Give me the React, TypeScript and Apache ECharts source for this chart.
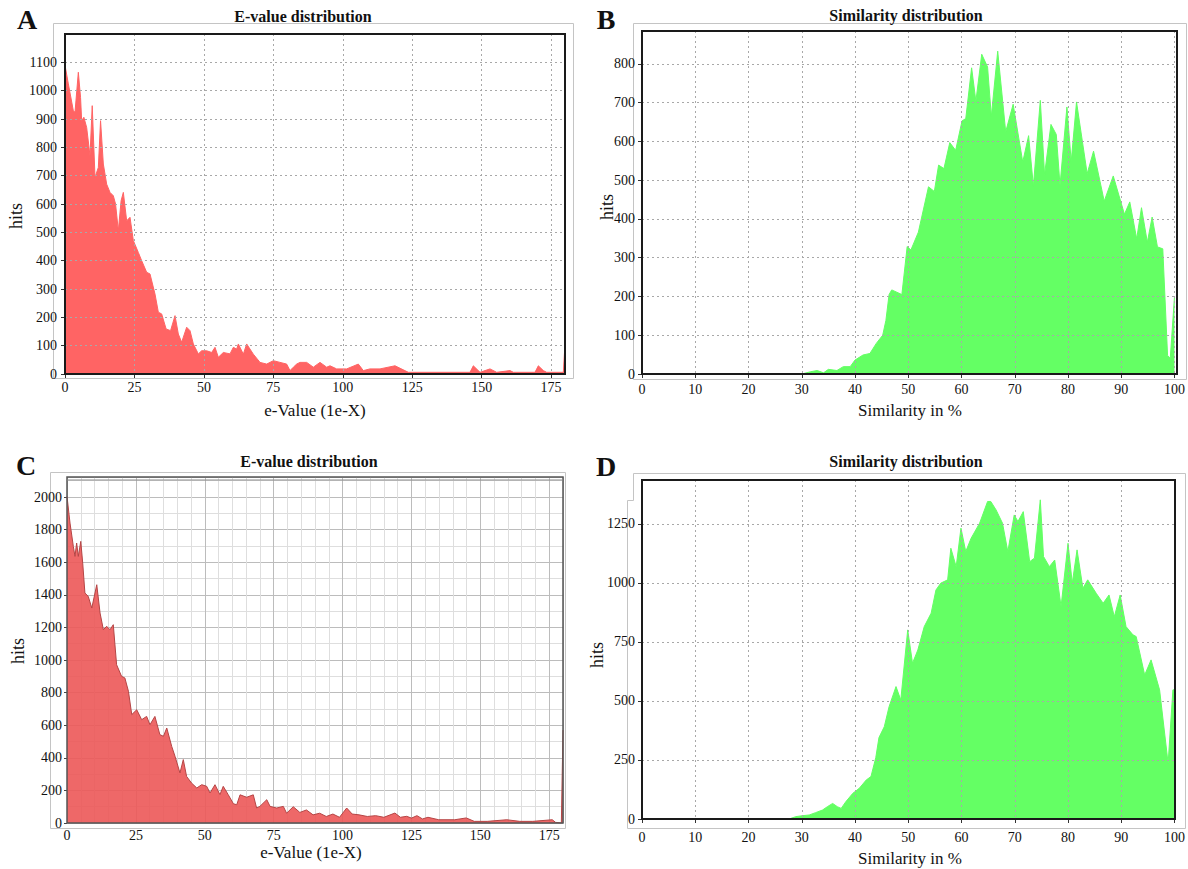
import React, { useEffect, useRef } from "react";
import * as echarts from "echarts";

// ---------- data ----------
// Panel A: E-value distribution (x = e-value exponent, y = hits)
const evalueA: [number, number][] = [
  [0, 1090], [1.2, 1024], [3.0, 929], [3.6, 924], [4.8, 1065], [5.6, 976], [6.0, 894], [6.8, 906],
  [7.8, 870], [9.0, 770], [9.8, 947], [10.8, 694], [12.0, 729], [12.8, 894], [13.8, 741], [15.0, 670],
  [16.2, 641], [17.4, 629], [18.2, 600], [19.2, 506], [20.2, 612], [21.0, 641], [22.2, 541], [23.4, 553],
  [24.6, 471], [26.4, 429], [27.6, 400], [29.4, 359], [30.6, 353], [32.4, 282], [33.6, 218], [34.8, 212],
  [36.4, 159], [38.0, 153], [39.6, 206], [40.8, 141], [42.0, 112], [43.8, 165], [45.0, 153], [46.2, 106],
  [48.0, 71], [49.2, 82], [51.0, 82], [52.8, 76], [54.0, 94], [55.2, 59], [57.0, 76], [59.4, 71],
  [60.6, 94], [61.8, 88], [62.4, 106], [64.2, 70], [65.4, 106], [67.8, 70], [70.2, 41], [72.6, 35],
  [75.0, 47], [77.4, 41], [79.8, 35], [81.0, 12], [82.2, 24], [83.4, 35], [84.6, 41], [87.0, 41],
  [89.4, 24], [91.8, 41], [94.2, 24], [95.4, 29], [97.8, 18], [101.4, 18], [105.6, 35], [107.4, 12],
  [109.8, 18], [113.4, 18], [118.8, 29], [123.6, 6], [135.0, 6], [145.8, 6], [147.0, 29], [149.4, 6],
  [153.0, 18], [155.4, 6], [160.2, 12], [161.4, 6], [169.2, 6], [170.4, 29], [172.2, 12], [173.4, 6],
  [179.4, 6], [180, 106],
];

// Panel B: Similarity distribution (x = similarity %, y = hits)
const similarityB: [number, number][] = [
  [0, 0], [30, 0], [31.7, 6], [32.9, 9], [34.1, 3], [35, 12], [36.6, 9], [37.8, 19], [39.1, 19],
  [40, 36], [41.5, 49], [42.8, 53], [44, 79], [45.2, 100], [45.8, 138], [46.4, 205], [46.9, 217],
  [48.8, 205], [49.8, 329], [50.5, 320], [51.9, 366], [53.8, 483], [54.9, 471], [55.7, 539],
  [56.7, 530], [57.8, 597], [58.9, 577], [60.1, 653], [60.8, 659], [61.9, 790], [62.7, 704],
  [63.8, 825], [64.9, 792], [65.6, 665], [66.8, 833], [68.3, 625], [69.7, 696], [71.5, 547],
  [72.6, 615], [73.5, 485], [74.8, 706], [75.6, 515], [76.8, 644], [77.8, 618], [78.5, 487],
  [79.8, 689], [80.6, 548], [81.6, 702], [83.6, 517], [84.8, 575], [86.8, 446], [88.5, 511],
  [90.6, 412], [91.6, 444], [92.9, 349], [93.8, 429], [94.9, 340], [95.8, 405], [96.8, 328],
  [97.8, 323], [98.7, 48], [99.2, 40], [100, 200],
];

// Panel C: E-value distribution
const evalueC: [number, number][] = [
  [0, 2004], [1.1, 1840], [2.3, 1697], [2.9, 1636], [3.5, 1718], [4.1, 1636], [5.0, 1728], [5.7, 1595],
  [6.5, 1411], [7.7, 1391], [9.0, 1319], [10.8, 1462], [12.0, 1288], [13.2, 1186], [14.4, 1207],
  [15.6, 1186], [16.8, 1217], [18.0, 971], [19.8, 900], [21.0, 890], [22.3, 808], [23.5, 665],
  [25.3, 695], [27.1, 634], [28.9, 654], [30.1, 603], [31.9, 654], [33.7, 542], [35.0, 532],
  [36.2, 583], [38.0, 470], [39.2, 409], [41.0, 307], [42.2, 389], [43.4, 286], [45.2, 245],
  [47.1, 215], [48.9, 235], [50.7, 225], [51.9, 184], [53.7, 235], [55.5, 174], [56.7, 225],
  [58.5, 174], [60.4, 118], [61.6, 112], [62.8, 173], [65.2, 158], [67.6, 173], [68.8, 92],
  [70.0, 102], [72.5, 143], [73.7, 102], [76.1, 92], [78.5, 102], [79.7, 60], [82.1, 100],
  [84.5, 65], [86.9, 80], [89.3, 50], [91.7, 60], [94.1, 40], [96.5, 55], [98.9, 35], [101.5, 92],
  [103.5, 55], [106, 50], [109, 40], [112, 45], [115, 35], [119, 61], [121, 35], [123.3, 41],
  [125, 30], [127, 45], [129, 25], [131, 35], [134.9, 20], [140.7, 20], [144.9, 31], [147.8, 10],
  [152.5, 10], [159.6, 20], [164.3, 10], [169, 10], [176.1, 20], [177.3, 4], [179.4, 0], [180, 570],
];

// Panel D: Similarity distribution
const similarityD: [number, number][] = [
  [0, 0], [27.6, 0], [28.9, 10], [30.1, 14], [31.4, 17], [32.6, 27], [33.9, 38], [34.8, 52],
  [35.8, 66], [36.7, 52], [37.4, 45], [38.3, 74], [39.6, 109], [40.8, 130], [42.1, 165], [43, 180],
  [43.9, 260], [44.5, 345], [45.5, 391], [46.4, 476], [47.7, 561], [48.6, 504], [49.9, 801],
  [50.8, 660], [51.8, 716], [53, 815], [54.3, 872], [55.2, 970], [56.1, 999], [57.4, 1013],
  [58, 1147], [59, 1069], [59.9, 1232], [60.8, 1133], [61.8, 1189], [63.4, 1253], [64.9, 1345],
  [65.5, 1345], [66.5, 1309], [67.7, 1253], [68.7, 1133], [69.9, 1288], [70.6, 1260], [71.6, 1302],
  [72.8, 1090], [73.7, 1105], [74.8, 1352], [75.4, 1112], [76.5, 1069], [77.5, 1097], [78.7, 900],
  [80, 1168], [80.8, 999], [81.7, 1140], [82.8, 977], [83.7, 1013], [85.3, 956], [86.6, 914],
  [87.7, 949], [88.7, 857], [89.8, 949], [90.9, 815], [92.2, 780], [92.8, 773], [94.4, 610],
  [95.6, 674], [97.2, 547], [98.8, 236], [99.7, 547], [100, 547],
];

const FONT = "'Liberation Serif', 'DejaVu Serif', serif";

// plot-area boxes (layout only)
const plots = [
  { left: 65, top: 34, width: 500, height: 340 },
  { left: 642, top: 31, width: 535, height: 343 },
  { left: 67, top: 477, width: 496, height: 346 },
  { left: 642, top: 480, width: 533, height: 339 },
];

export default function App() {
  const ref = useRef<HTMLDivElement>(null);

  useEffect(() => {
    if (!ref.current) return;
    const chart = echarts.init(ref.current, undefined, { renderer: "svg" });

    const dashed = { show: true, lineStyle: { color: "#a8a8a8", width: 1, type: [2, 3] as any } };
    const axisLine = { show: true, onZero: false, lineStyle: { color: "#111", width: 2 } };
    const tick = { show: true, length: 4, lineStyle: { color: "#333", width: 1 } };
    const lbl = (margin: number, showMax = false) => ({
      fontSize: 14, color: "#111", fontFamily: FONT, margin, showMaxLabel: showMax,
      formatter: (v: number) => String(v),
    });

    const xAxis: any[] = [
      { gridIndex: 0, type: "value", min: 0, max: 180, interval: 25, z: 3, axisLine, axisTick: tick,
        axisLabel: lbl(6), splitLine: dashed },
      { gridIndex: 1, type: "value", min: 0, max: 100, interval: 10, z: 3, axisLine, axisTick: tick,
        axisLabel: lbl(8, true), splitLine: dashed },
      { gridIndex: 2, type: "value", min: 0, max: 180, interval: 25, z: 1,
        axisLine: { show: false },
        axisTick: { show: false },
        axisLabel: lbl(5),
        splitLine: { show: true, lineStyle: { color: "#bcbcbc", width: 1 } },
        minorTick: { show: false, splitNumber: 5 },
        minorSplitLine: { show: true, lineStyle: { color: "#dedede", width: 1 } } },
      { gridIndex: 3, type: "value", min: 0, max: 100, interval: 10, z: 3, axisLine, axisTick: tick,
        axisLabel: lbl(11, true), splitLine: dashed },
    ];

    const yAxis: any[] = [
      { gridIndex: 0, type: "value", min: 0, max: 1200, interval: 100, z: 3, axisLine, axisTick: tick,
        axisLabel: lbl(8), splitLine: dashed },
      { gridIndex: 1, type: "value", min: 0, max: 885, interval: 100, z: 3, axisLine, axisTick: tick,
        axisLabel: lbl(7), splitLine: dashed },
      { gridIndex: 2, type: "value", min: 0, max: 2123, interval: 200, z: 1,
        axisLine: { show: false },
        axisTick: { show: true, length: 3, lineStyle: { color: "#444" } },
        axisLabel: lbl(5),
        splitLine: { show: true, lineStyle: { color: "#bcbcbc", width: 1 } },
        minorTick: { show: false, splitNumber: 2 },
        minorSplitLine: { show: true, lineStyle: { color: "#dedede", width: 1 } } },
      { gridIndex: 3, type: "value", min: 0, max: 1436, interval: 250, z: 3, axisLine, axisTick: tick,
        axisLabel: lbl(7), splitLine: dashed },
    ];

    const grid: any[] = plots.map((p) => ({ ...p, show: false, containLabel: false }));

    const area = (idx: number, data: [number, number][], fill: string, edge: string, opacity = 1) => ({
      type: "line",
      xAxisIndex: idx,
      yAxisIndex: idx,
      data,
      symbol: "none",
      showSymbol: false,
      z: 2,
      lineStyle: { color: edge, width: 1 },
      itemStyle: { color: fill },
      areaStyle: { color: fill, opacity },
    });

    const series = [
      area(0, evalueA, "#ff6464", "#ff6464"),
      area(1, similarityB, "#64ff64", "#64ff64"),
      area(2, evalueC, "#ec5858", "#b54545", 0.9),
      area(3, similarityD, "#64ff64", "#64ff64"),
    ];

    const txt = (text: string, x: number, y: number, size: number, bold = false, rot = 0) => ({
      type: "text",
      x,
      y,
      rotation: rot,
      z: 10,
      style: {
        text,
        fill: "#111",
        font: `${bold ? "bold " : ""}${size}px ${FONT}`,
        align: "center",
        verticalAlign: "middle",
      },
    });

    const frame = (x: number, y: number, w: number, h: number) => ({
      type: "rect",
      shape: { x, y, width: w, height: h },
      z: 0,
      silent: true,
      style: { fill: "none", stroke: "#c4c4c4", lineWidth: 1 },
    });

    const plotBorder = (i: number, color: string, w: number) => ({
      type: "rect",
      z: 20,
      silent: true,
      shape: { x: plots[i].left, y: plots[i].top, width: plots[i].width, height: plots[i].height },
      style: { fill: "none", stroke: color, lineWidth: w },
    });

    const graphic: any[] = [
      frame(53.5, 23.5, 520, 355),
      frame(633.5, 23.5, 553, 356),
      frame(50.5, 472.5, 515, 356),
      {
        type: "polyline",
        z: 0,
        silent: true,
        shape: { points: [[633.5, 473.5], [1185.5, 473.5], [1185.5, 828.5], [627.5, 828.5], [627.5, 500.5], [633.5, 500.5], [633.5, 473.5]] },
        style: { fill: "none", stroke: "#c4c4c4", lineWidth: 1 },
      },
      plotBorder(0, "#1a1a1a", 2),
      plotBorder(1, "#1a1a1a", 2),
      plotBorder(2, "#555555", 1.5),
      {
        type: "line",
        z: 20,
        silent: true,
        shape: { x1: plots[2].left, y1: plots[2].top + 3, x2: plots[2].left + plots[2].width, y2: plots[2].top + 3 },
        style: { stroke: "#888", lineWidth: 1 },
      },
      plotBorder(3, "#1a1a1a", 2),
      txt("A", 27, 19, 28, true),
      txt("B", 606, 19, 28, true),
      txt("C", 26, 465, 28, true),
      txt("D", 606, 466, 28, true),
      txt("E-value distribution", 303, 16, 16, true),
      txt("Similarity distribution", 906, 15, 16, true),
      txt("E-value distribution", 309, 461, 16, true),
      txt("Similarity distribution", 906, 461, 16, true),
      txt("e-Value (1e-X)", 315, 410, 17),
      txt("Similarity in %", 910, 410, 17),
      txt("e-Value (1e-X)", 311, 852, 17),
      txt("Similarity in %", 910, 858, 17),
      txt("hits", 16, 216, 18, false, Math.PI / 2),
      txt("hits", 607, 207, 18, false, Math.PI / 2),
      txt("hits", 18, 651, 18, false, Math.PI / 2),
      txt("hits", 597, 655, 18, false, Math.PI / 2),
    ];

    chart.setOption({
      animation: false,
      backgroundColor: "#ffffff",
      textStyle: { fontFamily: FONT },
      grid,
      xAxis,
      yAxis,
      series,
      graphic,
    });

    return () => chart.dispose();
  }, []);

  return (
    <div
      ref={ref}
      style={{ position: "absolute", left: 0, top: 0, width: 1188, height: 869, background: "#fff" }}
    />
  );
}
